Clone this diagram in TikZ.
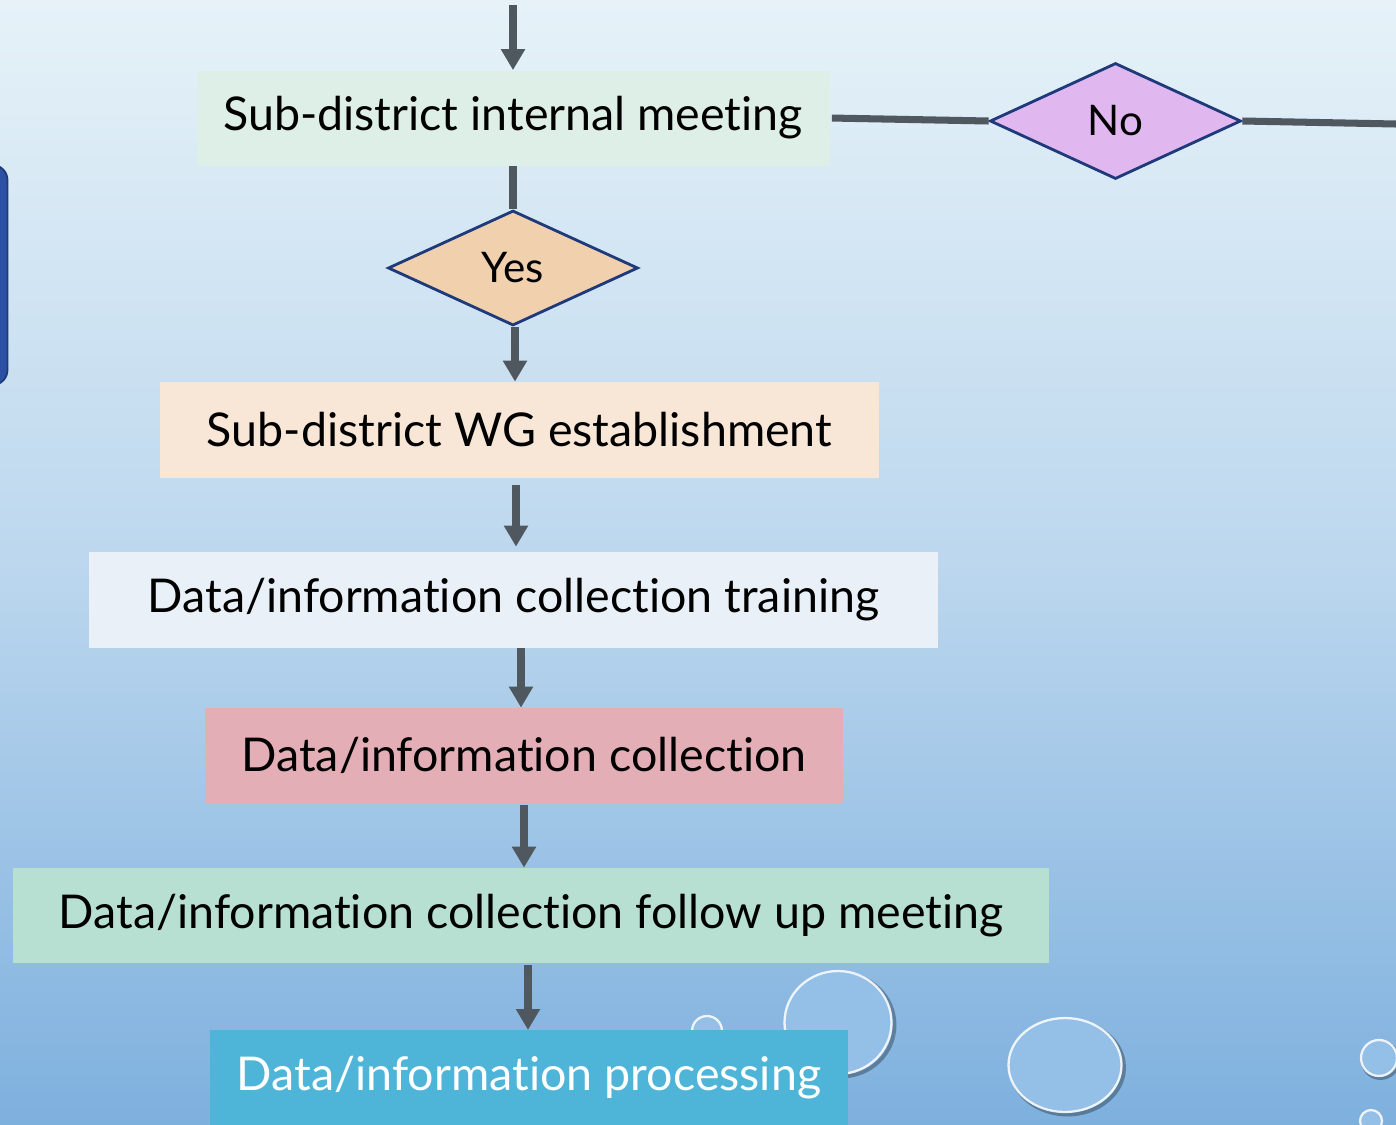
\documentclass[tikz,border=0pt]{standalone}
\usepackage{fontspec}
\setmainfont{Lato}[Ligatures=NoCommon]
\usetikzlibrary{shapes.geometric,arrows.meta}
\definecolor{bgtop}{HTML}{E6F2F8}
\definecolor{bgmid}{HTML}{BCD7EE}
\definecolor{bgbot}{HTML}{7EB0DE}
\definecolor{arrowgray}{HTML}{50585F}
\definecolor{dborder}{HTML}{1F3A7A}
\definecolor{cA}{HTML}{DDEFE6}
\definecolor{cYes}{HTML}{F1D0AE}
\definecolor{cNo}{HTML}{E0B7EE}
\definecolor{cB}{HTML}{F8E6D6}
\definecolor{cC}{HTML}{E9F0F7}
\definecolor{cD}{HTML}{E3AEB5}
\definecolor{cE}{HTML}{B8E0D2}
\definecolor{cF}{HTML}{4FB5D8}
\definecolor{sideblue}{HTML}{2C50A4}
\definecolor{bubblefill}{HTML}{94BFE6}
\begin{document}
\begin{tikzpicture}[
  stepbox/.style={rectangle, inner sep=0pt, font=\fontsize{26.5}{30}\selectfont, text=black},
  decision/.style={diamond, draw=dborder, line width=1.6pt, inner sep=0pt, font=\fontsize{24}{28}\selectfont},
  flow/.style={draw=arrowgray, line width=4pt, -{Triangle[length=0.42cm,width=0.46cm]}},
  link/.style={draw=arrowgray, line width=4pt},
  bubble/.style={fill=bubblefill, draw=white, draw opacity=0.85, line width=1.3pt},
  bshadow/.style={draw=black, draw opacity=0.3, line width=2.2pt}
]
\useasboundingbox (0,0) rectangle (27.92,-22.48);
% background
\shade[top color=bgtop, bottom color=bgbot, middle color=bgmid] (0,0) rectangle (27.92,-22.48);
% side shape
\draw[fill=sideblue, draw=dborder, line width=1pt, rounded corners=0.3cm] (-1,-3.3) rectangle (0.15,-7.7);
% bubbles
\draw[bshadow] (16.82,-20.50) ellipse (1.07cm and 1.03cm);
\draw[bubble] (16.76,-20.45) ellipse (1.07cm and 1.03cm);
\draw[bshadow] (21.35,-21.35) ellipse (1.13cm and 0.94cm);
\draw[bubble] (21.30,-21.30) ellipse (1.13cm and 0.94cm);
\draw[bubble] (14.14,-20.62) ellipse (0.3cm and 0.3cm);
\draw[bshadow] (27.61,-21.20) circle (0.36cm);
\draw[bubble] (27.58,-21.16) circle (0.36cm);
\draw[bubble] (27.42,-22.42) circle (0.22cm);
% nodes
\node[stepbox, fill=cA, minimum width=12.66cm, minimum height=1.9cm] (meet) at (10.26,-2.36) {Sub-district internal meeting};
\node[decision, fill=cYes, minimum width=5cm, minimum height=2.3cm] (yes) at (10.26,-5.36) {Yes};
\node[decision, fill=cNo, minimum width=5.02cm, minimum height=2.32cm] (no) at (22.31,-2.42) {No};
\node[stepbox, fill=cB, minimum width=14.38cm, minimum height=1.92cm] (wg) at (10.39,-8.6) {Sub-district WG establishment};
\node[stepbox, fill=cC, minimum width=16.98cm, minimum height=1.92cm] (train) at (10.27,-12.0) {Data/information collection training};
\node[stepbox, fill=cD, minimum width=12.76cm, minimum height=1.9cm] (coll) at (10.48,-15.11) {Data/information collection};
\node[stepbox, fill=cE, minimum width=20.72cm, minimum height=1.9cm] (follow) at (10.62,-18.31) {Data/information collection follow up meeting};
\node[stepbox, fill=cF, text=white, minimum width=12.76cm, minimum height=1.9cm, anchor=north] (proc) at (10.58,-20.6) {Data/information processing};
% connectors
\coordinate (topin) at (10.26,-0.1);
\coordinate (rightout) at (27.92,-2.48);
\draw[flow] (topin) -- (meet.north);
\draw[link] (meet.south) -- (yes.north);
\draw[flow] ([xshift=0.04cm]yes.south) -- ([xshift=0.04cm]yes.south |- wg.north);
\draw[flow, shorten <=0.14cm, shorten >=0.1cm] ([xshift=-0.07cm]wg.south) -- ([xshift=-0.07cm]wg.south |- train.north);
\draw[flow] ([xshift=0.15cm]train.south) -- ([xshift=0.15cm]train.south |- coll.north);
\draw[flow, shorten <=0.04cm] (coll.south) -- (coll.south |- follow.north);
\draw[flow, shorten <=0.04cm] ([xshift=-0.06cm]follow.south) -- ([xshift=-0.06cm]follow.south |- proc.north);
\draw[link, shorten <=0.04cm] (meet.east) -- (no.west);
\draw[link] (no.east) -- (rightout);
\end{tikzpicture}
\end{document}
